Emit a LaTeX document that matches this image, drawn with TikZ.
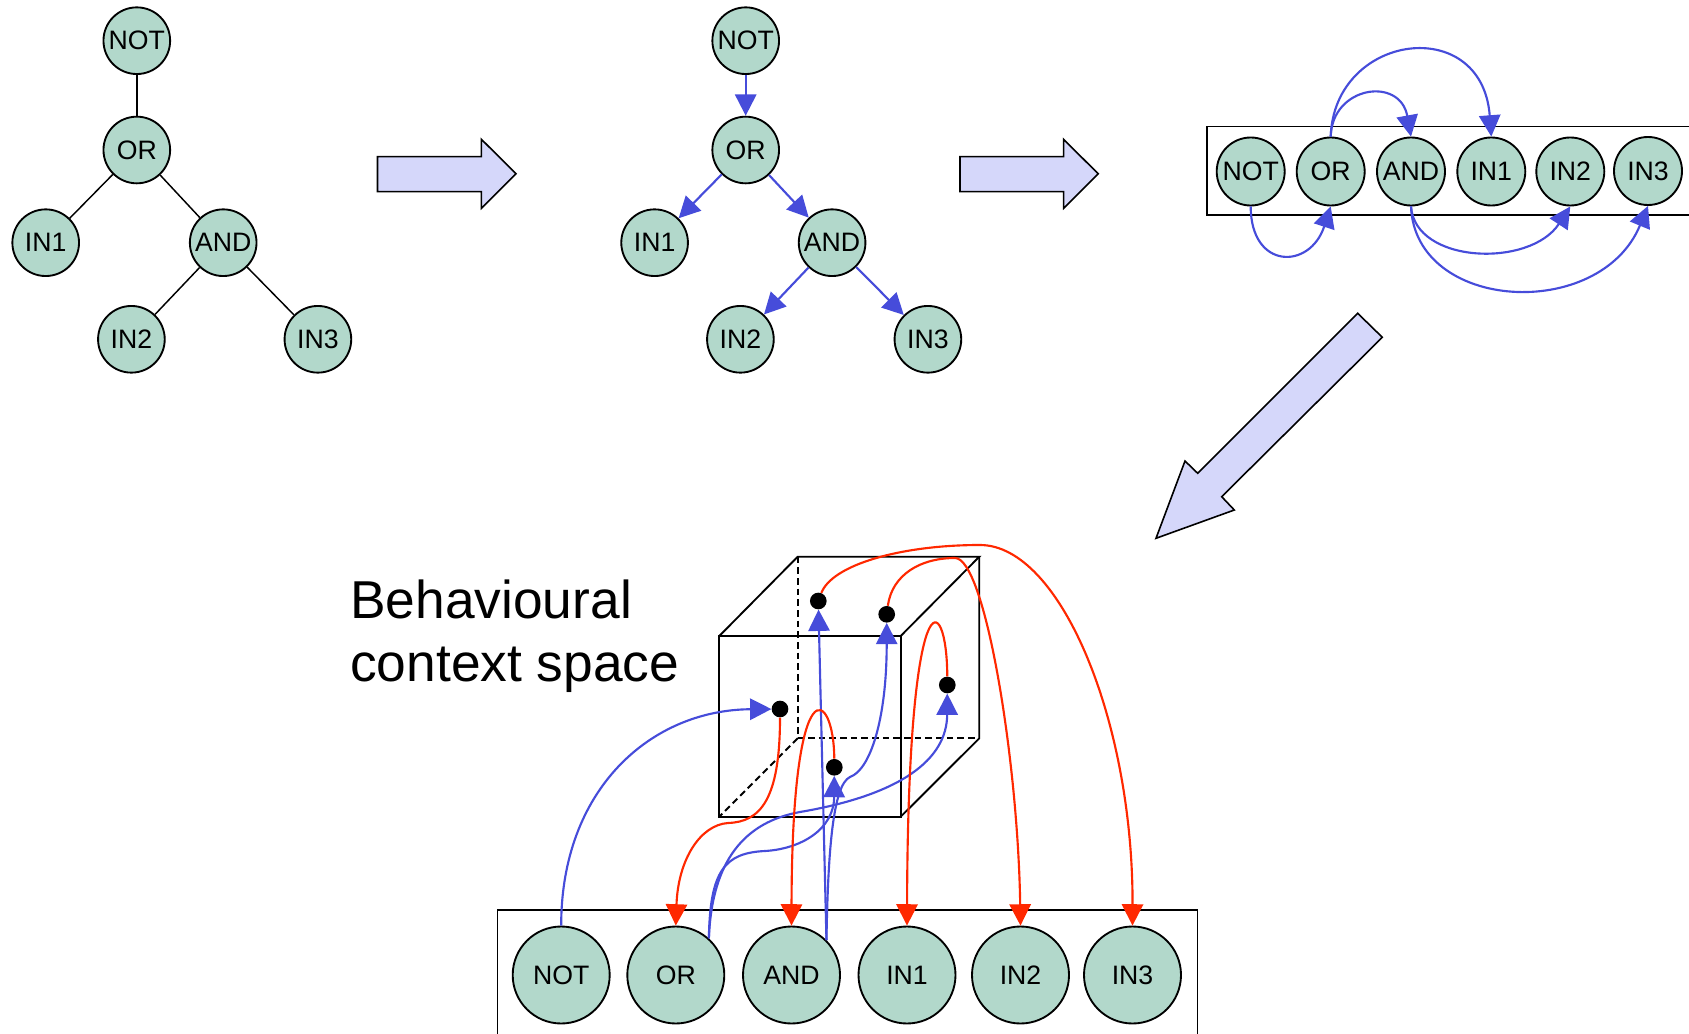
\documentclass[tikz,border=0pt]{standalone}
\usepackage{fontspec}
\setmainfont{Liberation Sans}
\usetikzlibrary{arrows.meta}

\definecolor{nodefill}{RGB}{178,216,203}
\definecolor{edgeblue}{RGB}{70,76,218}
\definecolor{edgered}{RGB}{255,40,0}
\definecolor{blockfill}{RGB}{213,215,250}

\begin{document}
\begin{tikzpicture}[x=0.75pt,y=-0.75pt,
  gate/.style={circle, draw=black, line width=1.4pt, fill=nodefill, inner sep=0pt,
    minimum size=50pt, font=\fontsize{20}{24}\selectfont},
  gatewide/.style={gate, minimum size=51pt},
  gatebig/.style={gate, minimum size=72.75pt},
  ctxdot/.style={circle, fill=black, inner sep=0pt, minimum size=12.5pt},
  treeline/.style={line width=1.1pt},
  bluearrow/.style={draw=edgeblue, line width=1.6pt, -{Triangle[length=16pt,width=16pt]}},
  redarrow/.style={draw=edgered, line width=1.6pt, -{Triangle[length=16pt,width=16pt]}},
  blockarrow/.style={draw=black, line width=1.2pt, fill=blockfill, line join=miter},
  boxframe/.style={draw=black, line width=1.2pt},
  cubeedge/.style={draw=black, line width=1.4pt},
  cubehidden/.style={cubeedge, dash pattern=on 5pt off 3pt},
  caption/.style={anchor=base west, inner sep=0pt, font=\fontsize{40}{48}\selectfont},
]
\useasboundingbox (0,0) rectangle (1689,1034);

% ---------- expression tree (undirected) ----------
\node[gate] (tNOT) at (136.8,40.7)  {NOT};
\node[gate] (tOR)  at (136.8,150)   {OR};
\node[gate] (tIN1) at (45.7,242.7)  {IN1};
\node[gate] (tAND) at (223.2,242.7) {AND};
\node[gate] (tIN2) at (131.4,339.3) {IN2};
\node[gate] (tIN3) at (317.9,339.3) {IN3};
\draw[treeline] (tNOT) -- (tOR);
\draw[treeline] (tOR) -- (tIN1);
\draw[treeline] (tOR) -- (tAND);
\draw[treeline] (tAND) -- (tIN2);
\draw[treeline] (tAND) -- (tIN3);

% ---------- block arrows ----------
\draw[blockarrow] (377.5,156.7) -- (481.4,156.7) -- (481.4,139.3) -- (516,173.8)
  -- (481.4,208.3) -- (481.4,191.7) -- (377.5,191.7) -- cycle;
\draw[blockarrow] (960,156.7) -- (1063.6,156.7) -- (1063.6,139.3) -- (1098.2,173.8)
  -- (1063.6,208.3) -- (1063.6,191.7) -- (960,191.7) -- cycle;
\draw[blockarrow] (1357.7,313.3) -- (1382.3,337.3) -- (1221.7,496.7) -- (1234.3,510)
  -- (1156,538.3) -- (1185,461) -- (1197.7,473.3) -- cycle;

% ---------- directed tree ----------
\node[gate] (uNOT) at (745.7,40.7)  {NOT};
\node[gate] (uOR)  at (745.7,150)   {OR};
\node[gate] (uIN1) at (654.6,242.7) {IN1};
\node[gate] (uAND) at (832.1,242.7) {AND};
\node[gate] (uIN2) at (740.4,339.3) {IN2};
\node[gate] (uIN3) at (927.9,339.3) {IN3};
\draw[bluearrow] (uNOT) -- (uOR);
\draw[bluearrow] (uOR) -- (uIN1);
\draw[bluearrow] (uOR) -- (uAND);
\draw[bluearrow] (uAND) -- (uIN2);
\draw[bluearrow] (uAND) -- (uIN3);

% ---------- linearised row ----------
\draw[boxframe] (1689,126.7) -- (1206.7,126.7) -- (1206.7,215) -- (1689,215);
\node[gatewide] (rNOT) at (1250.7,171.5) {NOT};
\node[gatewide] (rOR)  at (1330.7,171.5) {OR};
\node[gatewide] (rAND) at (1411,171.5)   {AND};
\node[gatewide] (rIN1) at (1491.3,171.5) {IN1};
\node[gatewide] (rIN2) at (1570.3,171.5) {IN2};
\node[gatewide] (rIN3) at (1648,171)     {IN3};
\draw[bluearrow] (rNOT.south) .. controls (1250.7,270) and (1310,270) .. (rOR.south);
\draw[bluearrow] (rOR.north) .. controls (1332,86) and (1400,76) .. (rAND.north);
\draw[bluearrow] (rOR.north) .. controls (1334,33) and (1482,13) .. (rIN1.north);
\draw[bluearrow] (rAND.south) .. controls (1415,264) and (1530,268) .. (rIN2.south);
\draw[bluearrow] (rAND.south) .. controls (1415,312) and (1600,322) .. (rIN3.south);

% ---------- behavioural context space ----------
\node[caption] (capA) at (350,618) {Behavioural};
\node[caption] (capB) at (350,681) {context space};

% cube: hidden edges dashed
\draw[cubehidden] (797.7,556.7) -- (797.7,738.3) -- (979.3,738.3);
\draw[cubehidden] (797.7,738.3) -- (719.3,816.7);
\draw[cubeedge] (719.3,636) rectangle (900.7,816.7);
\draw[cubeedge] (719.3,636) -- (797.7,556.7) -- (979.3,556.7) -- (900.7,636);
\draw[cubeedge] (979.3,556.7) -- (979.3,738.3) -- (900.7,816.7);

% bottom row
\draw[boxframe] (497.5,1040) -- (497.5,910) -- (1197.3,910) -- (1197.3,1040);
\node[gatebig] (bNOT) at (561.2,975) {NOT};
\node[gatebig] (bOR)  at (675.8,975) {OR};
\node[gatebig] (bAND) at (791.5,975) {AND};
\node[gatebig] (bIN1) at (907,975)   {IN1};
\node[gatebig] (bIN2) at (1020.5,975) {IN2};
\node[gatebig] (bIN3) at (1132.5,975) {IN3};

% points in the context space
\node[ctxdot] (d1) at (818.3,601)   {};
\node[ctxdot] (d2) at (886.7,614.3) {};
\node[ctxdot] (d3) at (947.3,685)   {};
\node[ctxdot] (d4) at (780,709)     {};
\node[ctxdot] (d5) at (834.3,767.3) {};

% mappings from gates to points
\draw[bluearrow] (bNOT.north) .. controls (561,790) and (650,710) .. (d4);
\draw[bluearrow] (bOR.48) .. controls (710,870) and (725,853) .. (765,851)
  .. controls (800,849) and (834,830) .. (d5);
\draw[bluearrow] (bOR.48) .. controls (712,860) and (745,822) .. (800,812)
  .. controls (900,795) and (947,760) .. (d3);
\draw[bluearrow] (bAND.45) -- (d1);
\draw[bluearrow] (bAND.45) .. controls (828,850) and (833,785) .. (850,777)
  .. controls (870,770) and (886.7,720) .. (d2);

% mappings from points back to gates
\draw[redarrow] (d4) .. controls (780,800) and (760,822) .. (728,823)
  .. controls (700,825) and (678,860) .. (bOR.north);
\draw[redarrow] (d5) .. controls (834,690) and (792,660) .. (bAND.north);
\draw[redarrow] (d3) .. controls (947,590) and (908,570) .. (bIN1.north);
\draw[redarrow] (d1) .. controls (832,565) and (900,545) .. (980,545)
  .. controls (1060,545) and (1133,720) .. (bIN3.north);
\draw[redarrow] (d2) .. controls (892,575) and (920,558) .. (955,558)
  .. controls (985,558) and (1018,760) .. (bIN2.north);
\end{tikzpicture}
\end{document}
